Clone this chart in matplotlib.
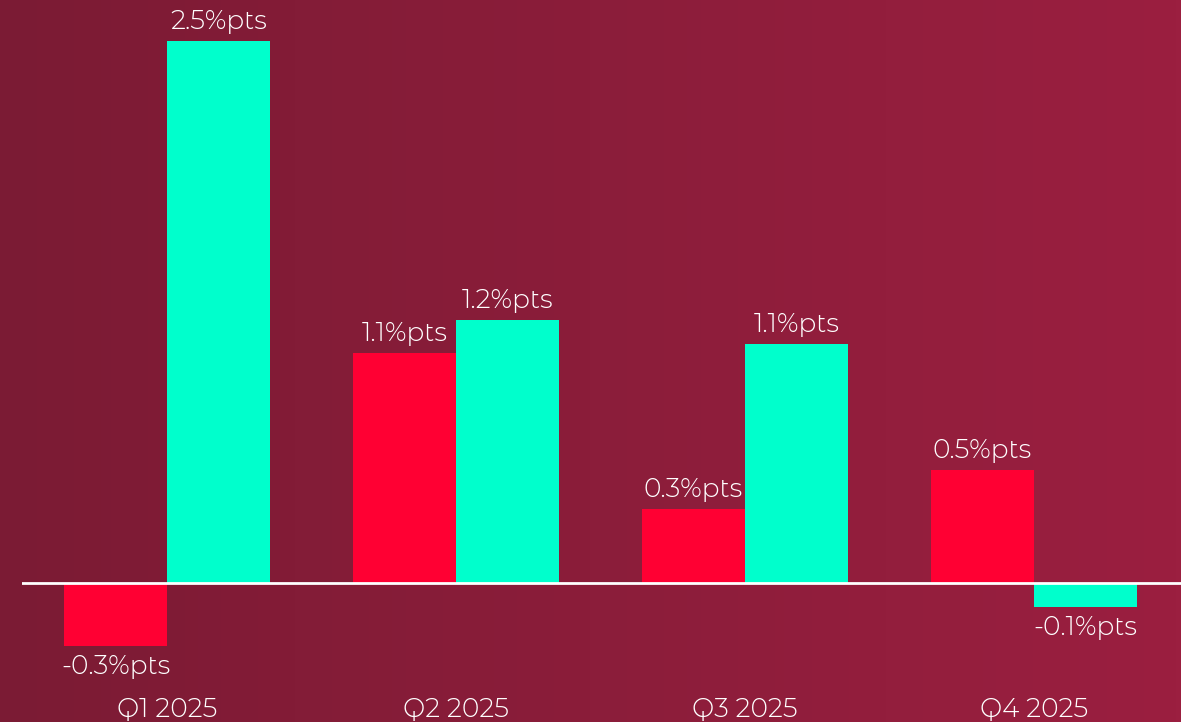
import matplotlib
matplotlib.use("Agg")
import matplotlib.pyplot as plt
import numpy as np
from matplotlib.colors import LinearSegmentedColormap

quarters = ["Q1 2025", "Q2 2025", "Q3 2025", "Q4 2025"]
red_vals = [-0.29, 1.06, 0.34, 0.52]
teal_vals = [2.5, 1.21, 1.1, -0.11]

RED = "#ff0033"
TEAL = "#00ffcc"
plt.rcParams["font.family"] = ["Montserrat Alternates", "Open Sans", "DejaVu Sans"]
plt.rcParams["font.weight"] = 300

fig = plt.figure(figsize=(11.81, 7.22), dpi=100)

# gradient background
bg = fig.add_axes([0, 0, 1, 1], zorder=-1)
cmap = LinearSegmentedColormap.from_list("bg", ["#7b1b34", "#9b1f40"])
bg.imshow(np.linspace(0, 1, 256).reshape(1, -1), cmap=cmap, aspect="auto",
          extent=[0, 1, 0, 1])
bg.set_axis_off()

ax = fig.add_axes([22 / 1181, 32 / 722, 1159 / 1181, 690 / 722])
ax.set_facecolor("none")
x = np.arange(len(quarters))
w = 0.356
bars_r = ax.bar(x - w / 2, red_vals, w, color=RED)
bars_t = ax.bar(x + w / 2, teal_vals, w, color=TEAL)
ax.axhline(0, color="white", lw=2, zorder=3)

fs = 19
for bars, vals in [(bars_r, red_vals), (bars_t, teal_vals)]:
    for b, v in zip(bars, vals):
        cx = b.get_x() + b.get_width() / 2
        if v >= 0:
            ax.annotate(f"{v:.1f}%pts", (cx, v), xytext=(0, 5), textcoords="offset points",
                        ha="center", va="bottom", color="white", fontsize=fs)
        else:
            ax.annotate(f"{v:.1f}%pts", (cx, v), xytext=(0, -6), textcoords="offset points",
                        ha="center", va="top", color="white", fontsize=fs)

ax.set_xlim(-0.502, 3.509)
ax.set_ylim(-(690 - 583) / 217, 583 / 217)
ax.set_xticks(x)
ax.set_xticklabels(quarters, color="white", fontsize=fs)
ax.tick_params(axis="x", length=0, pad=5)
ax.set_yticks([])
for s in ax.spines.values():
    s.set_visible(False)

fig.savefig("out.png", dpi=100)
